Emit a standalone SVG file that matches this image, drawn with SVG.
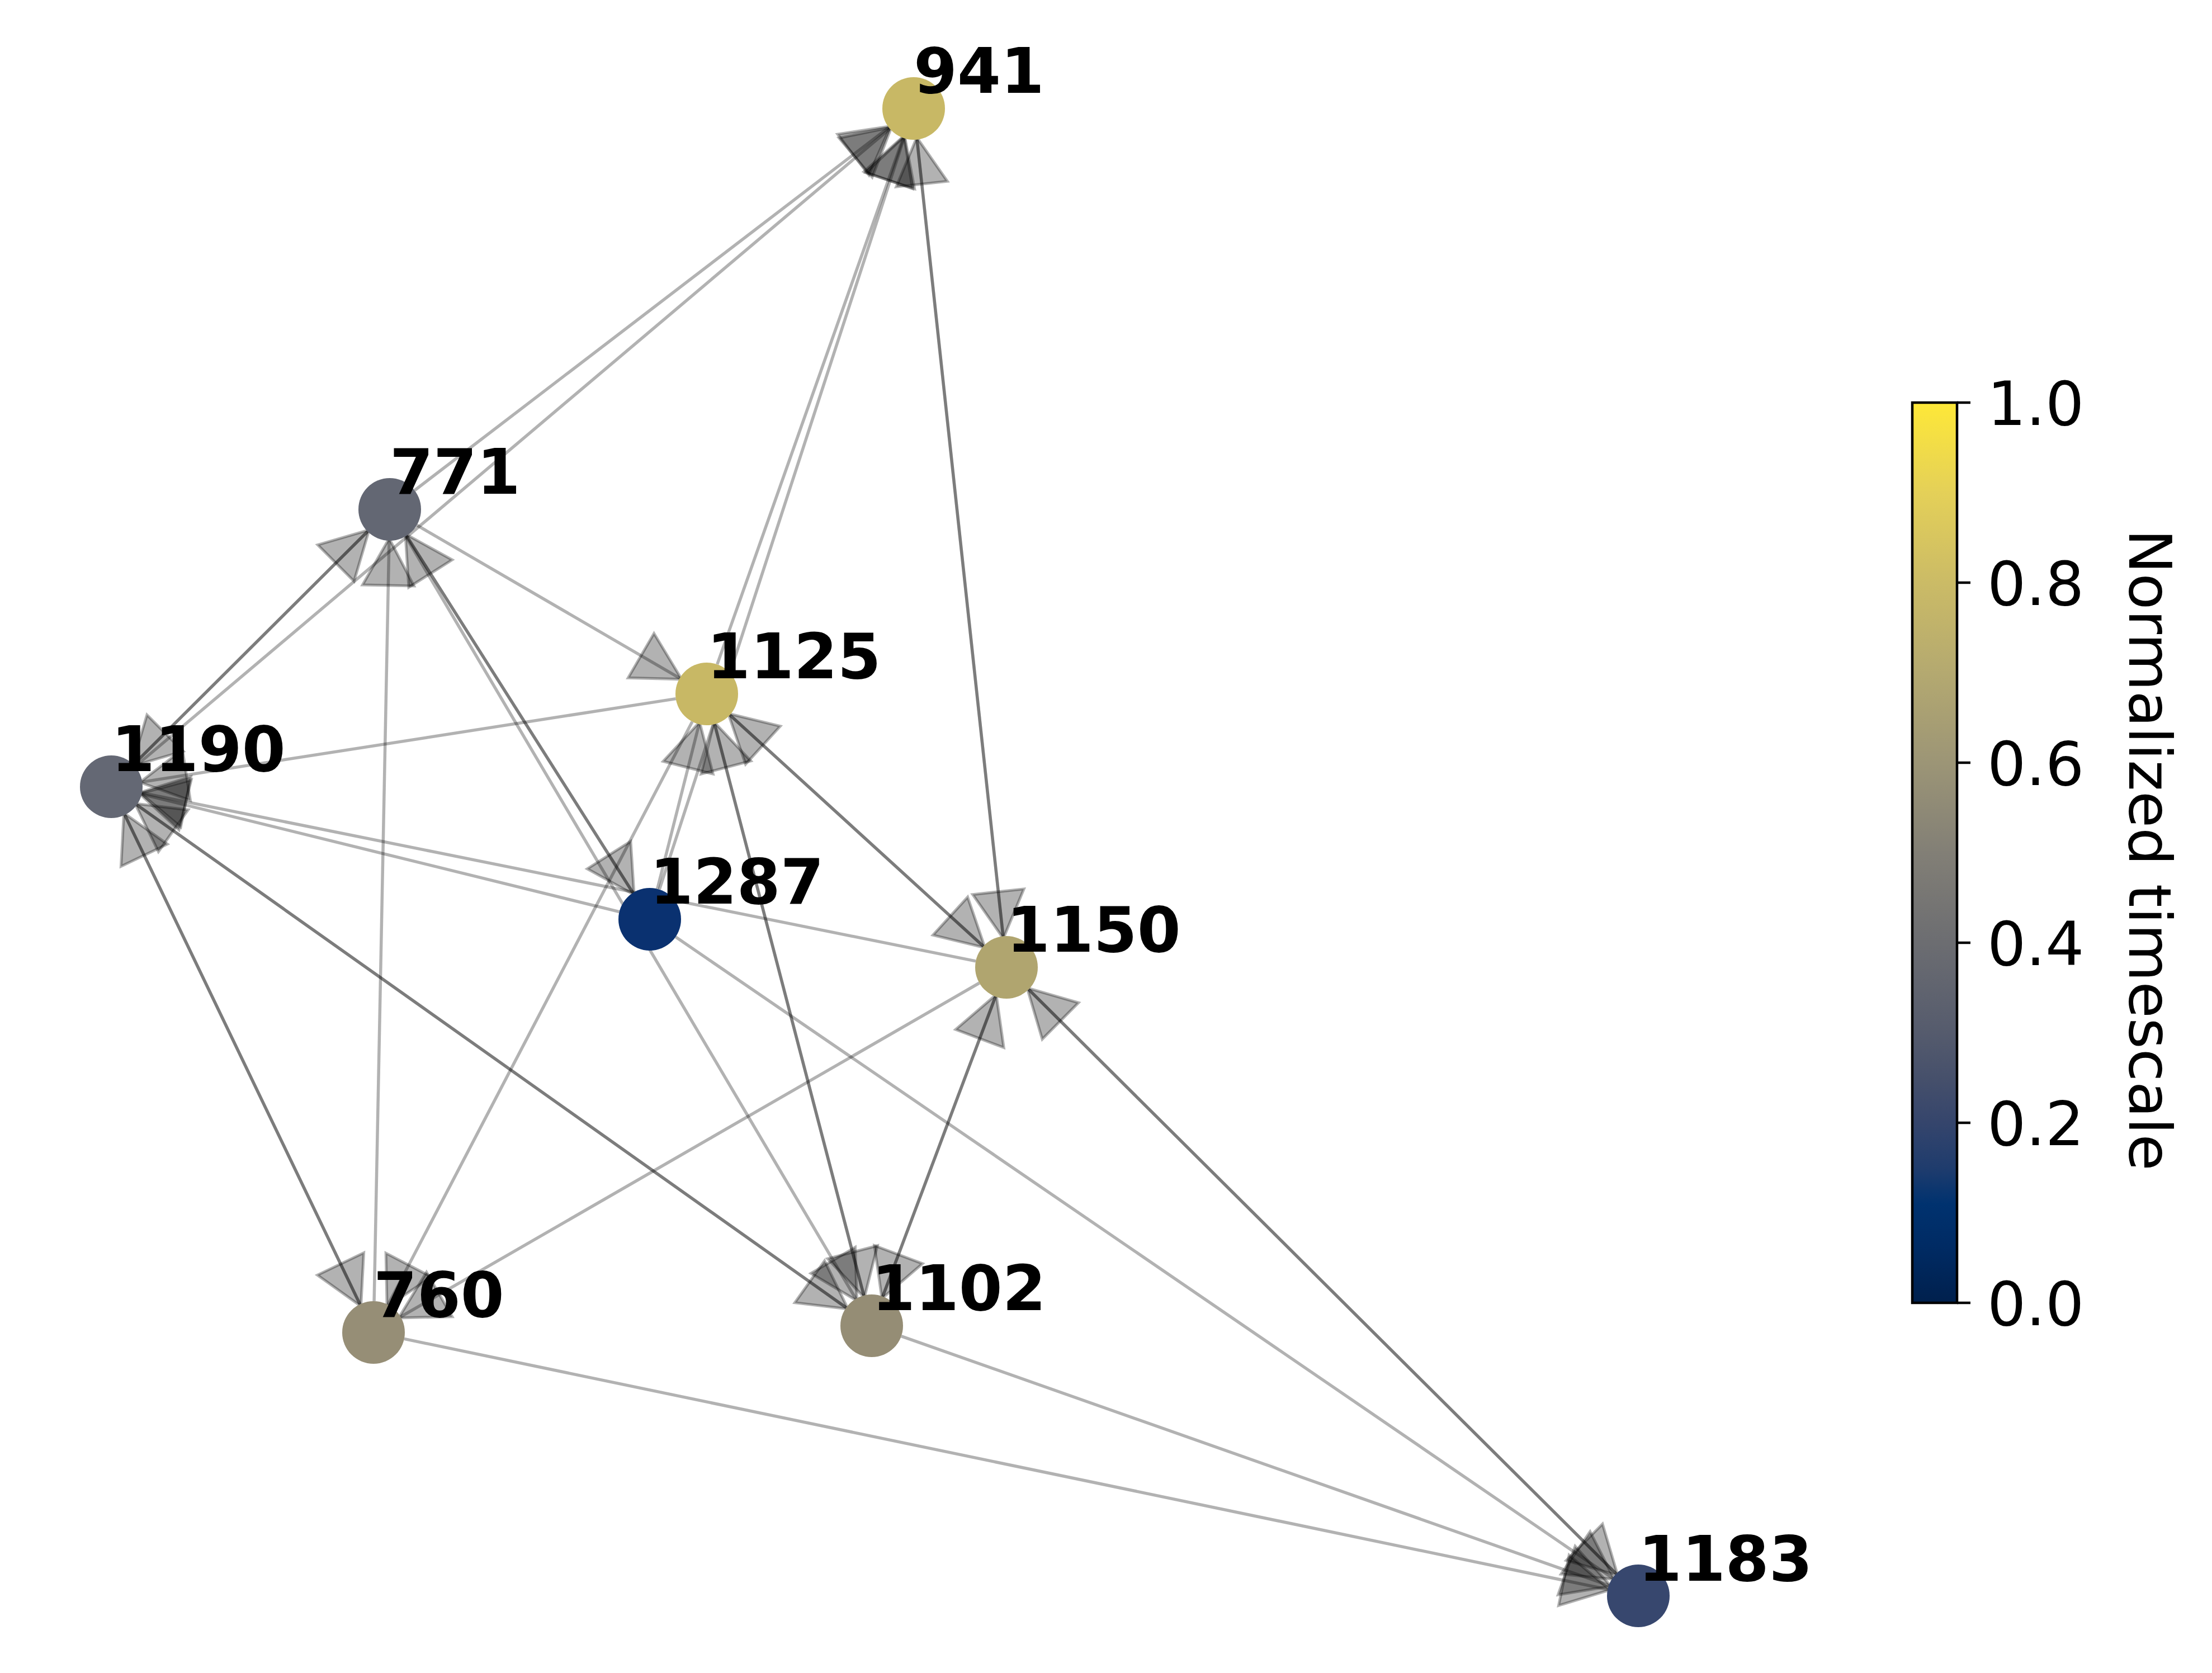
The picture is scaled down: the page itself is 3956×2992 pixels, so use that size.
<svg xmlns="http://www.w3.org/2000/svg" width="3956" height="2992" viewBox="0 0 3956 2992">
<defs>
<style>
.e{stroke:#000;stroke-opacity:0.3;stroke-width:5.5;fill:none;marker-end:url(#ah)}
.lbl{font-family:"DejaVu Sans","Liberation Sans",sans-serif;font-weight:bold;font-size:112px;fill:#000}
.tk{font-family:"DejaVu Sans","Liberation Sans",sans-serif;font-size:109px;fill:#000}
.cl{font-family:"DejaVu Sans","Liberation Sans",sans-serif;font-size:106px;fill:#000}
.tick{stroke:#000;stroke-width:4.5}
</style>
<marker id="ah" markerUnits="userSpaceOnUse" orient="auto" viewBox="-100 -100 200 200" refX="0" refY="0" markerWidth="200" markerHeight="200" overflow="visible">
<path d="M0,0 L-84,-46 L-84,46 Z" fill="#000" fill-opacity="0.3" stroke="#000" stroke-opacity="0.3" stroke-width="5" stroke-linejoin="miter"/>
</marker>
<linearGradient id="cividis" x1="0" y1="1" x2="0" y2="0">
<stop offset="0" stop-color="#00204D"/>
<stop offset="0.063" stop-color="#002B64"/>
<stop offset="0.11" stop-color="#00326F"/>
<stop offset="0.15" stop-color="#1F3C6D"/>
<stop offset="0.2" stop-color="#35456C"/>
<stop offset="0.25" stop-color="#46506B"/>
<stop offset="0.3" stop-color="#555B6D"/>
<stop offset="0.4" stop-color="#6C6D71"/>
<stop offset="0.5" stop-color="#827F76"/>
<stop offset="0.6" stop-color="#9C9576"/>
<stop offset="0.7" stop-color="#B4A970"/>
<stop offset="0.8" stop-color="#CBBB66"/>
<stop offset="0.9" stop-color="#E4D058"/>
<stop offset="1" stop-color="#FEE838"/>
</linearGradient>
</defs>
<rect x="0" y="0" width="3956" height="2992" fill="#fff"/>
<g id="edges">
<line class="e" x1="741.5" y1="877.0" x2="1592.7" y2="225.6"/>
<line class="e" x1="241.8" y1="1370.8" x2="1594.3" y2="227.6"/>
<line class="e" x1="1282.7" y1="1188.2" x2="1616.7" y2="243.0"/>
<line class="e" x1="1179.3" y1="1590.7" x2="1617.9" y2="243.4"/>
<line class="e" x1="1794.0" y1="1674.3" x2="1639.6" y2="245.7"/>
<line class="e" x1="1640.0" y1="249.7" x2="1794.4" y2="1678.3"/>
<line class="e" x1="657.3" y1="950.5" x2="235.8" y2="1370.3"/>
<line class="e" x1="238.7" y1="1367.5" x2="660.2" y2="947.7"/>
<line class="e" x1="745.4" y1="939.2" x2="1219.1" y2="1214.8"/>
<line class="e" x1="727.0" y1="958.3" x2="1134.1" y2="1600.1"/>
<line class="e" x1="1132.0" y1="1596.7" x2="724.9" y2="954.9"/>
<line class="e" x1="725.5" y1="959.2" x2="1532.6" y2="2326.2"/>
<line class="e" x1="669.1" y1="2327.0" x2="696.0" y2="963.0"/>
<line class="e" x1="1208.7" y1="1249.6" x2="250.4" y2="1399.0"/>
<line class="e" x1="1107.6" y1="1630.6" x2="249.5" y2="1419.4"/>
<line class="e" x1="1745.1" y1="1718.9" x2="250.0" y2="1417.3"/>
<line class="e" x1="244.7" y1="1439.4" x2="1516.6" y2="2340.9"/>
<line class="e" x1="1513.3" y1="2338.6" x2="241.4" y2="1437.1"/>
<line class="e" x1="223.3" y1="1457.5" x2="645.5" y2="2336.1"/>
<line class="e" x1="643.7" y1="2332.5" x2="221.5" y2="1453.9"/>
<line class="e" x1="1175.7" y1="1589.7" x2="1251.2" y2="1291.4"/>
<line class="e" x1="1305.4" y1="1278.7" x2="1761.6" y2="1695.0"/>
<line class="e" x1="1758.6" y1="1692.3" x2="1302.4" y2="1276.0"/>
<line class="e" x1="1278.1" y1="1295.2" x2="1545.9" y2="2320.7"/>
<line class="e" x1="1544.9" y1="2316.8" x2="1277.1" y2="1291.3"/>
<line class="e" x1="1238.1" y1="1290.6" x2="692.1" y2="2336.9"/>
<line class="e" x1="1751.5" y1="1758.0" x2="713.0" y2="2357.0"/>
<line class="e" x1="1780.3" y1="1782.4" x2="1577.3" y2="2322.3"/>
<line class="e" x1="1578.7" y1="2318.6" x2="1781.7" y2="1778.7"/>
<line class="e" x1="1839.7" y1="1769.5" x2="2893.1" y2="2817.3"/>
<line class="e" x1="2890.3" y1="2814.5" x2="1836.9" y2="1766.7"/>
<line class="e" x1="1208.2" y1="1675.6" x2="2887.1" y2="2824.6"/>
<line class="e" x1="1611.8" y1="2389.6" x2="2881.0" y2="2836.7"/>
<line class="e" x1="722.8" y1="2394.4" x2="2879.1" y2="2843.4"/>
</g>
<g id="node-941"><circle cx="1634" cy="194" r="56" fill="#C8B865"/><text class="lbl" x="1634" y="166">941</text></g>
<g id="node-771"><circle cx="697" cy="911" r="56" fill="#636773"/><text class="lbl" x="697" y="883">771</text></g>
<g id="node-1125"><circle cx="1264" cy="1241" r="56" fill="#C8B865"/><text class="lbl" x="1264" y="1213">1125</text></g>
<g id="node-1190"><circle cx="199" cy="1407" r="56" fill="#646874"/><text class="lbl" x="199" y="1379">1190</text></g>
<g id="node-1287"><circle cx="1162" cy="1644" r="56" fill="#0A3170"/><text class="lbl" x="1162" y="1616">1287</text></g>
<g id="node-1150"><circle cx="1800" cy="1730" r="56" fill="#B0A56F"/><text class="lbl" x="1800" y="1702">1150</text></g>
<g id="node-760"><circle cx="668" cy="2383" r="56" fill="#968E76"/><text class="lbl" x="668" y="2355">760</text></g>
<g id="node-1102"><circle cx="1559" cy="2371" r="56" fill="#958D75"/><text class="lbl" x="1559" y="2343">1102</text></g>
<g id="node-1183"><circle cx="2930" cy="2854" r="56" fill="#37476E"/><text class="lbl" x="2930" y="2827">1183</text></g>
<g id="colorbar">
<rect x="3420" y="720" width="80" height="1610" fill="url(#cividis)" stroke="#000" stroke-width="4.5"/>
<line class="tick" x1="3500" y1="720" x2="3524" y2="720"/>
<line class="tick" x1="3500" y1="1042" x2="3524" y2="1042"/>
<line class="tick" x1="3500" y1="1364" x2="3524" y2="1364"/>
<line class="tick" x1="3500" y1="1686" x2="3524" y2="1686"/>
<line class="tick" x1="3500" y1="2008" x2="3524" y2="2008"/>
<line class="tick" x1="3500" y1="2330" x2="3524" y2="2330"/>
<text class="tk" x="3554" y="760">1.0</text>
<text class="tk" x="3554" y="1082">0.8</text>
<text class="tk" x="3554" y="1404">0.6</text>
<text class="tk" x="3554" y="1726">0.4</text>
<text class="tk" x="3554" y="2048">0.2</text>
<text class="tk" x="3554" y="2370">0.0</text>
<text class="cl" transform="translate(3808,1520) rotate(90)" text-anchor="middle">Normalized timescale</text>
</g>
</svg>
